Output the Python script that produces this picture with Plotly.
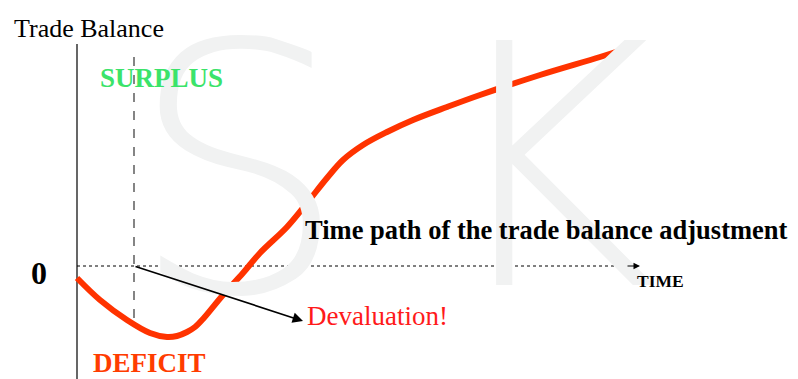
"""
jcurve.py — J-curve: time path of the trade balance after a devaluation.
"""

import plotly.graph_objects as go

# the page body keeps an 8px margin, so the figure fills the rest of the window
OFF = 8
W, H = 798 - OFF, 379 - OFF

# time path of the trade balance (time units, balance units)
time = [0.00, 0.46, 1.00, 1.46, 1.80, 2.00, 2.20, 2.36, 2.52, 2.92, 3.32, 3.66,
        4.20, 4.60, 5.00, 5.32, 5.72, 6.20, 6.72, 7.40, 8.06, 9.26, 10.46, 11.02]
balance = [-0.24, -0.68, -1.08, -1.34, -1.42, -1.40, -1.32, -1.22, -1.06, -0.58,
           -0.14, 0.26, 0.78, 1.26, 1.76, 2.12, 2.42, 2.68, 2.92, 3.18, 3.42,
           3.82, 4.18, 4.36]

devaluation_t = 1.14
devaluation_span = [4.18, -1.14]
time_axis_end = 11.18
balance_axis_top = 4.44
label_arrow_tip = (4.52, -1.1)
x_range = [-1.38, 14.42]
y_range = [-2.26, 5.16]

SERIF = "Liberation Serif, Times New Roman, serif"


def px(x):
    return (x - OFF) / W


def py(y):
    return 1 - (y - OFF) / H


fig = go.Figure()

# vertical axis
fig.add_trace(go.Scatter(
    x=[0, 0], y=[balance_axis_top, y_range[0]], mode="lines",
    line=dict(color="black", width=1.2), hoverinfo="skip",
))
# zero line (dotted)
fig.add_trace(go.Scatter(
    x=[0, time_axis_end], y=[0, 0], mode="lines",
    line=dict(color="black", width=1, dash="dot"), hoverinfo="skip",
))
# devaluation moment (dashed)
fig.add_trace(go.Scatter(
    x=[devaluation_t, devaluation_t], y=devaluation_span, mode="lines",
    line=dict(color="#444444", width=1.3, dash="dash"), hoverinfo="skip",
))
# J-curve
fig.add_trace(go.Scatter(
    x=time, y=balance, mode="lines",
    line=dict(color="#FF3300", width=6, shape="spline", smoothing=1.0),
    hoverinfo="skip",
))

annotations = [
    # watermark
    dict(text="S", x=px(238), y=py(172), font=dict(size=345, color="#F1F2F2",
         family="DejaVu Sans", weight=200)),
    dict(text="K", x=px(548), y=py(168), font=dict(size=336, color="#F1F2F2",
         family="DejaVu Sans", weight=200)),
    dict(text="Trade Balance", x=px(12), y=py(28), xanchor="left",
         font=dict(size=26, color="black", family=SERIF)),
    dict(text="<b>SURPLUS</b>", x=px(98), y=py(78), xanchor="left",
         font=dict(size=27, color="#3BE36A", family=SERIF)),
    dict(text="<b>DEFICIT</b>", x=px(91), y=py(363), xanchor="left",
         font=dict(size=27, color="#FF3C00", family=SERIF)),
    dict(text="<b>0</b>", x=px(39), y=py(273),
         font=dict(size=32, color="black", family=SERIF)),
    dict(text="<b>Time path of the trade balance adjustment</b>", x=px(303),
         y=py(230), xanchor="left",
         font=dict(size=26.5, color="black", family=SERIF)),
    dict(text="<b>TIME</b>", x=px(635), y=py(281), xanchor="left",
         font=dict(size=17.5, color="black", family=SERIF)),
    dict(text="Devaluation!", x=px(305), y=py(316), xanchor="left",
         font=dict(size=27, color="#FF1A1A", family=SERIF)),
]
for a in annotations:
    a.setdefault("xanchor", "center")
    a.update(xref="paper", yref="paper", yanchor="middle", showarrow=False)

# arrow pointing at devaluation label
annotations.append(dict(
    x=label_arrow_tip[0], y=label_arrow_tip[1], ax=devaluation_t, ay=0,
    xref="x", yref="y", axref="x", ayref="y", showarrow=True, arrowhead=2,
    arrowsize=1.3, arrowwidth=1.6, arrowcolor="black", text="",
))
# arrowhead on the time axis
annotations.append(dict(
    x=time_axis_end + 0.08, y=0, ax=time_axis_end - 0.2, ay=0, xref="x", yref="y",
    axref="x", ayref="y", showarrow=True, arrowhead=2, arrowsize=1.3,
    arrowwidth=1, arrowcolor="black", text="",
))

fig.update_layout(
    width=W, height=H,
    margin=dict(l=0, r=0, t=0, b=0),
    paper_bgcolor="white", plot_bgcolor="white",
    showlegend=False,
    xaxis=dict(range=x_range, visible=False),
    yaxis=dict(range=y_range, visible=False),
    annotations=annotations,
    shapes=[dict(type="circle", xref="paper", yref="paper",
                 x0=px(794), x1=px(816), y0=py(96), y1=py(118),
                 fillcolor="#4A86E8", line=dict(color="#2A4A80", width=1))],
)

fig.write_html("out.html")
